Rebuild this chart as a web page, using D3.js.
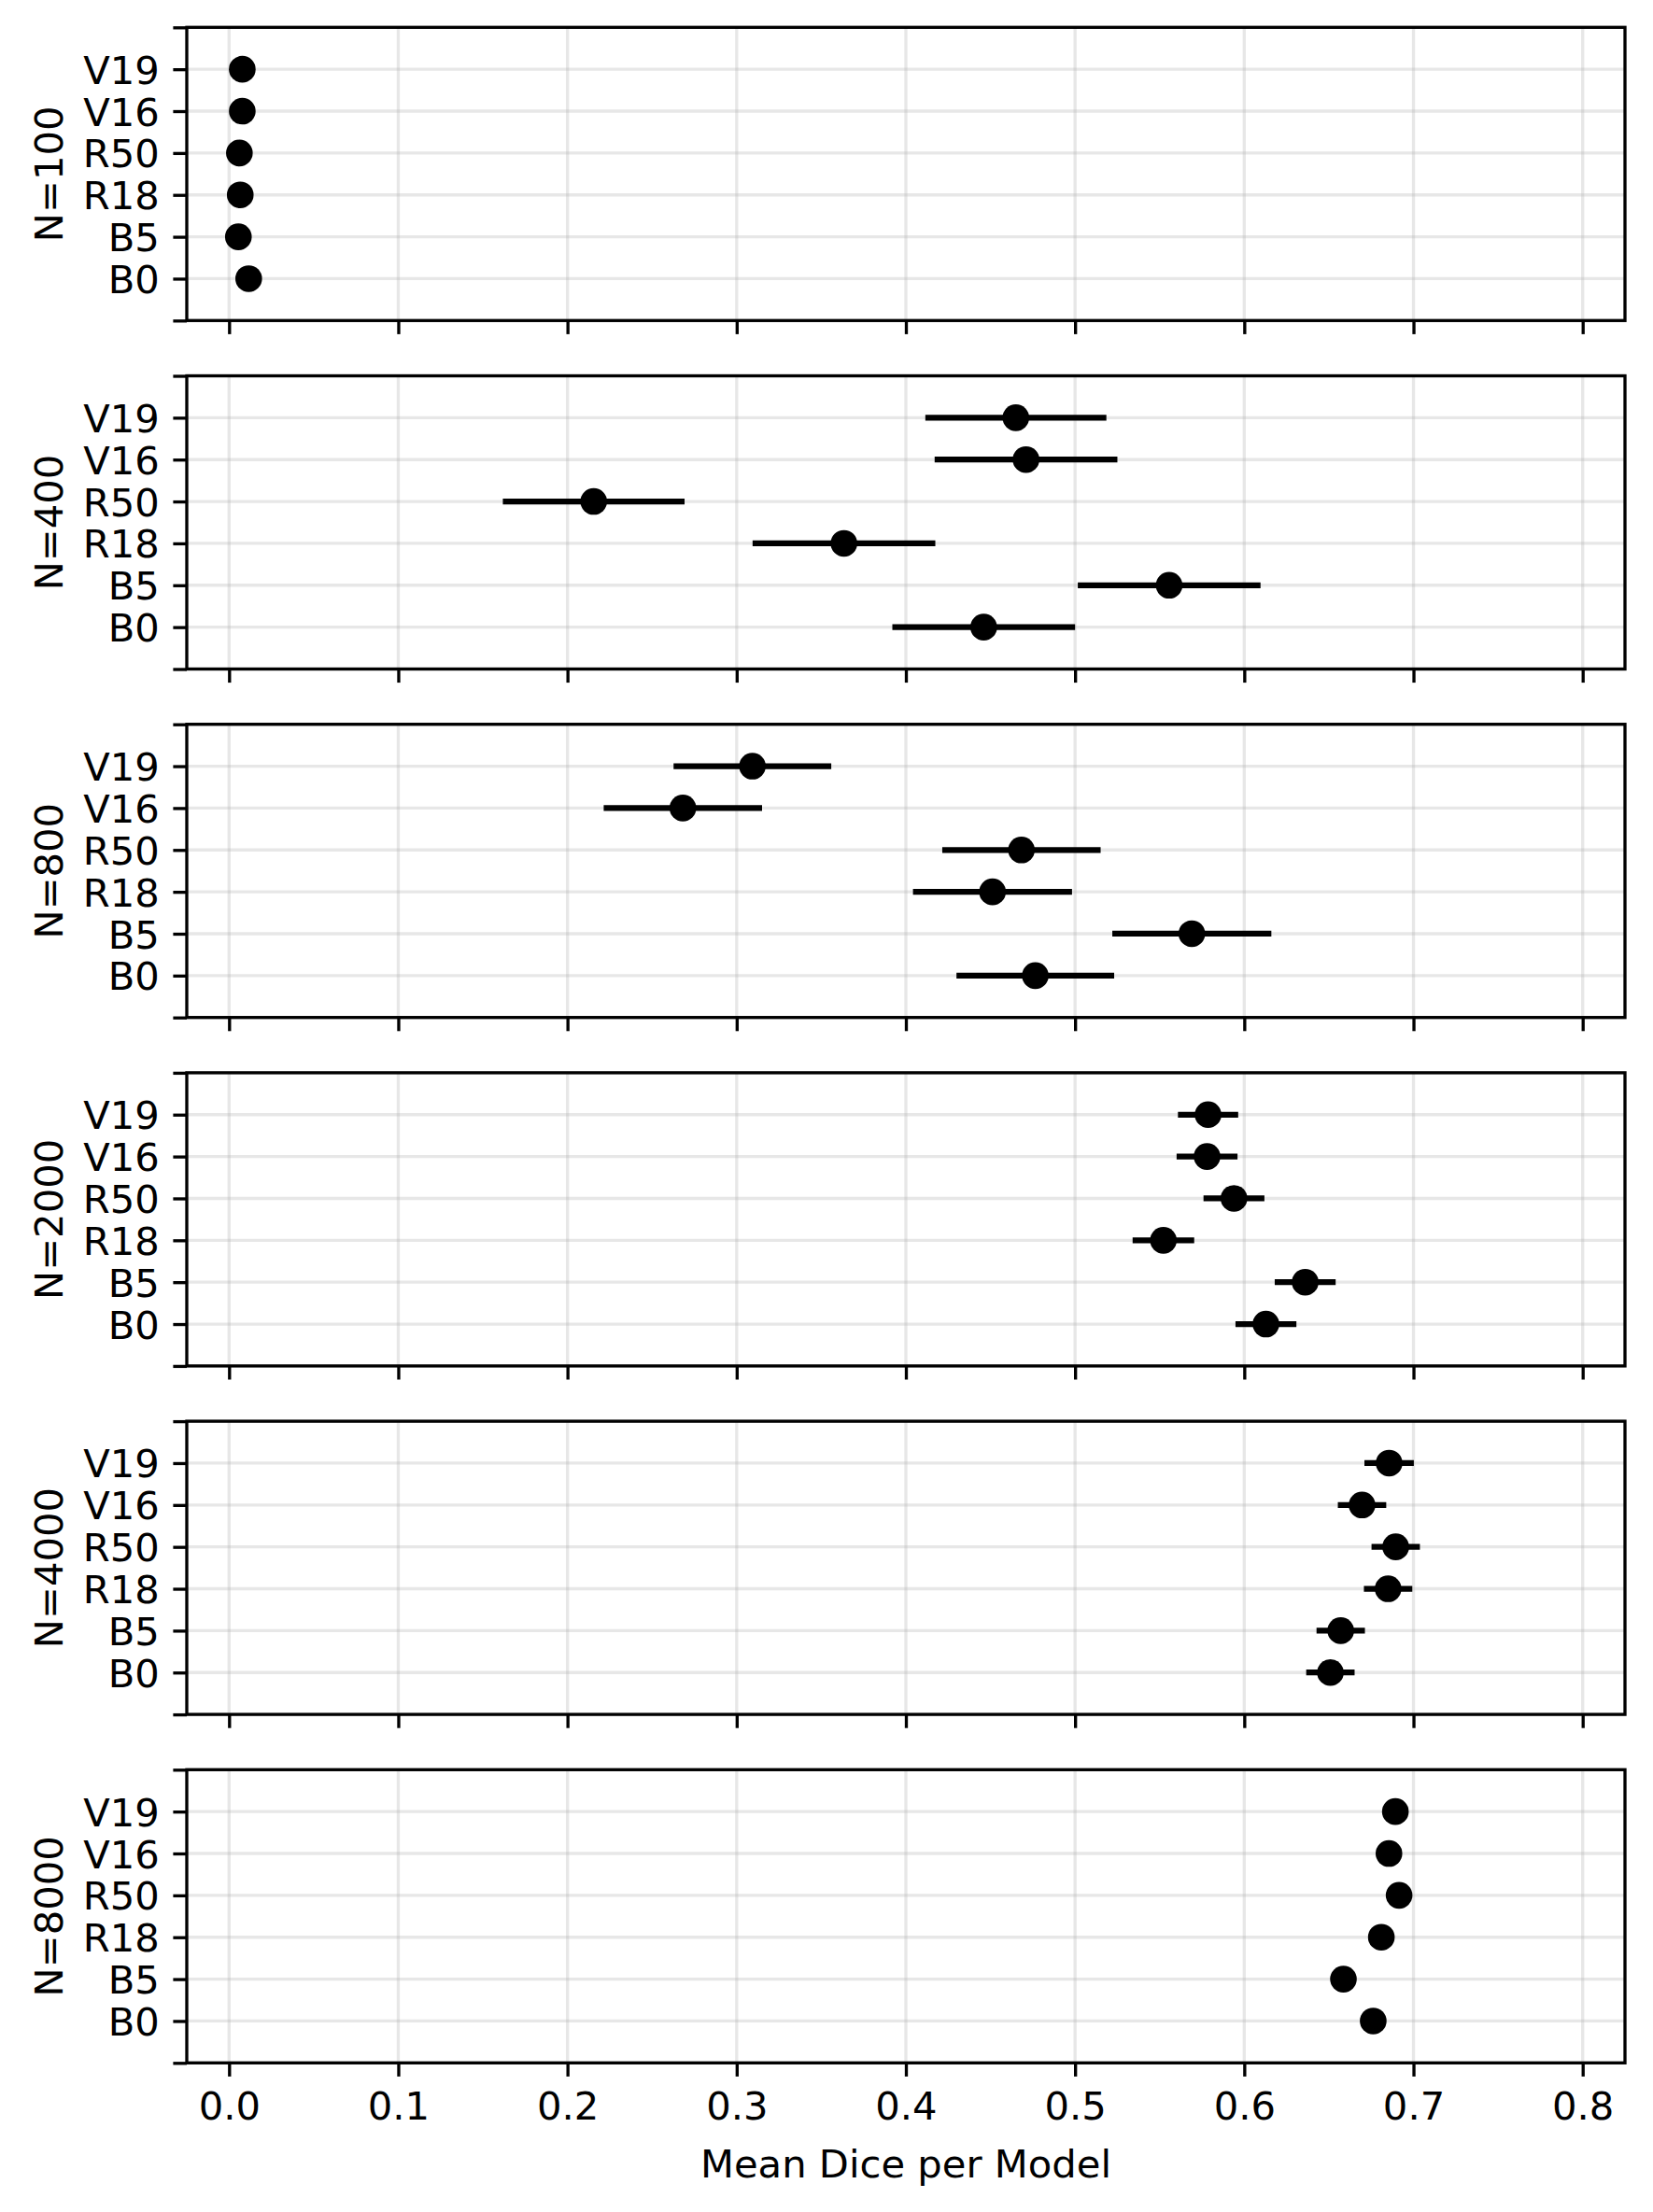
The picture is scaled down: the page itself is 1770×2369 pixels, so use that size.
<!DOCTYPE html>
<html>
<head>
<meta charset="utf-8">
<script src="https://cdn.jsdelivr.net/npm/d3@7"></script>
<style>
  body { margin: 0; background: #fff; }
  svg { display: block; font-family: "DejaVu Sans", sans-serif; }
</style>
</head>
<body>
<svg id="chart"></svg>
<script>
// models on the y axis, bottom to top
const models = ["B0", "B5", "R18", "R50", "V16", "V19"];
const sampleSizes = [100, 400, 800, 2000, 4000, 8000];

// mean dice per model (order follows models)
const mean100  = [0.0116, 0.0055, 0.0066, 0.0061, 0.0078, 0.0078];
const mean400  = [0.446, 0.5556, 0.3634, 0.2155, 0.471, 0.465];
const mean800  = [0.4765, 0.569, 0.4512, 0.4683, 0.2682, 0.3093];
const mean2000 = [0.6128, 0.636, 0.5522, 0.5939, 0.578, 0.5786];
const mean4000 = [0.6509, 0.657, 0.685, 0.6895, 0.6696, 0.6856];
const mean8000 = [0.6762, 0.6586, 0.681, 0.6915, 0.6855, 0.6893];

// half width of the error bars
const err100  = [0.004, 0.004, 0.004, 0.004, 0.004, 0.004];
const err400  = [0.054, 0.054, 0.054, 0.0537, 0.054, 0.0535];
const err800  = [0.0466, 0.047, 0.047, 0.0468, 0.0468, 0.0466];
const err2000 = [0.018, 0.018, 0.0182, 0.018, 0.018, 0.0178];
const err4000 = [0.0143, 0.0143, 0.0143, 0.0143, 0.0143, 0.0146];
const err8000 = [0.007, 0.007, 0.007, 0.007, 0.007, 0.007];

const xTicks = [0, 0.1, 0.2, 0.3, 0.4, 0.5, 0.6, 0.7, 0.8];
const xLabel = "Mean Dice per Model";

const means = [mean100, mean400, mean800, mean2000, mean4000, mean8000];
const errs = [err100, err400, err800, err2000, err4000, err8000];

// figure geometry
var width = 1770, height = 2369;
var left = 200, right = 1740;
var firstTop = 29.3, step = 373.2, panelH = 314;
var fontSize = 41.7, tickLen = 14.6, lw = 3.33;

var svg = d3.select("#chart").attr("width", width).attr("height", height);

var x = d3.scaleLinear().domain([-0.025, 0.825]).range([left, right]);

sampleSizes.forEach(function(n, p) {
  var top = firstTop + p * step;
  var y = d3.scaleLinear().domain([-1, 6]).range([top + panelH, top]);
  var g = svg.append("g");
  var yTicks = d3.range(-1, 7);

  // grid
  g.selectAll(".gx").data(xTicks).enter().append("line")
    .attr("x1", d => x(d)).attr("x2", d => x(d))
    .attr("y1", top).attr("y2", top + panelH)
    .attr("stroke", "#b0b0b0").attr("stroke-opacity", 0.3).attr("stroke-width", lw);
  g.selectAll(".gy").data(yTicks).enter().append("line")
    .attr("x1", left).attr("x2", right)
    .attr("y1", d => y(d)).attr("y2", d => y(d))
    .attr("stroke", "#b0b0b0").attr("stroke-opacity", 0.3).attr("stroke-width", lw);

  var rows = models.map(function(m, i) {
    return { model: m, i: i, mean: means[p][i], err: errs[p][i] };
  });

  // error bars
  g.selectAll(".eb").data(rows).enter().append("line")
    .attr("x1", d => x(d.mean - d.err)).attr("x2", d => x(d.mean + d.err))
    .attr("y1", d => y(d.i)).attr("y2", d => y(d.i))
    .attr("stroke", "#000").attr("stroke-width", 6.25);

  // points
  g.selectAll(".pt").data(rows).enter().append("circle")
    .attr("cx", d => x(d.mean)).attr("cy", d => y(d.i))
    .attr("r", 14.3).attr("fill", "#000");

  // y axis
  var yAxis = d3.axisLeft(y).tickValues(yTicks)
    .tickFormat(d => (d >= 0 && d < models.length) ? models[d] : "")
    .tickSize(tickLen).tickPadding(tickLen);
  var ya = g.append("g").attr("transform", "translate(" + left + ",0)").call(yAxis);

  // x axis
  var xAxis = d3.axisBottom(x).tickValues(xTicks)
    .tickFormat(p === sampleSizes.length - 1 ? d3.format(".1f") : "")
    .tickSize(tickLen).tickPadding(tickLen);
  var xa = g.append("g").attr("transform", "translate(0," + (top + panelH) + ")").call(xAxis);

  [ya, xa].forEach(function(a) {
    a.select(".domain").remove();
    a.selectAll(".tick line").attr("stroke", "#000").attr("stroke-width", lw);
    a.selectAll(".tick text").attr("fill", "#000")
      .style("font-size", fontSize + "px").style("font-family", "DejaVu Sans");
  });
  ya.selectAll(".tick text").attr("dy", "0.36em");
  xa.selectAll(".tick text").attr("dy", "0.76em");

  // frame
  g.append("rect")
    .attr("x", left).attr("y", top)
    .attr("width", right - left).attr("height", panelH)
    .attr("fill", "none").attr("stroke", "#000").attr("stroke-width", lw);

  // y label
  g.append("text")
    .attr("transform", "translate(67," + (top + panelH / 2) + ") rotate(-90)")
    .attr("text-anchor", "middle")
    .style("font-size", fontSize + "px")
    .text("N=" + n);
});

// x label
svg.append("text")
  .attr("x", (left + right) / 2).attr("y", 2332)
  .attr("text-anchor", "middle")
  .style("font-size", fontSize + "px")
  .text(xLabel);
</script>
</body>
</html>
